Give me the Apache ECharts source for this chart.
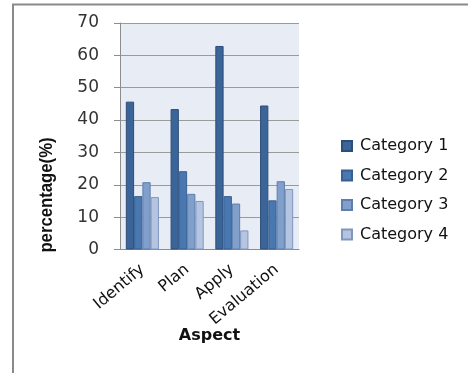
<!DOCTYPE html>
<html>
<head>
<meta charset="utf-8">
<script src="https://cdn.jsdelivr.net/npm/echarts@6/dist/echarts.min.js"></script>
<style>
  html, body { margin: 0; padding: 0; background: #fff; }
  #chart { width: 468px; height: 373px; }
</style>
</head>
<body>
<div id="chart"></div>
<script>
// Aspect categories and percentage per category group
const aspects = ['Identify', 'Plan', 'Apply', 'Evaluation'];
const seriesNames = ['Category 1', 'Category 2', 'Category 3', 'Category 4'];
const category1 = [45.7, 43.4, 62.9, 44.5];
const category2 = [16.5, 24.2, 16.5, 15.2];
const category3 = [20.8, 17.2, 14.2, 21.1];
const category4 = [16.2, 15.0, 5.9, 18.7];
const yTicks = { min: 0, max: 70, interval: 10 };
const yTitle = 'percentage(%)';
const xTitle = 'Aspect';

const fills = ['#3B6498', '#4877B1', '#819FCB', '#B5C5E1'];
const edges = ['#2D4E78', '#38608F', '#5E7EAE', '#7F96BE'];
const values = [category1, category2, category3, category4];

const chart = echarts.init(document.getElementById('chart'), null, { renderer: 'canvas' });

chart.setOption({
  animation: false,
  backgroundColor: '#ffffff',
  graphic: [
    {
      // frame along the left and top edges
      type: 'polyline',
      shape: { points: [[13, 373], [13, 4.5], [468, 4.5]] },
      style: { stroke: '#8a8a8a', lineWidth: 2, fill: null },
      silent: true
    },
    {
      // vertical axis title, slightly condensed
      type: 'text',
      x: 47, y: 195,
      rotation: Math.PI / 2,
      scaleX: 0.88,
      style: {
        text: yTitle,
        fontFamily: 'Liberation Sans',
        fontWeight: 'bold',
        fontSize: 19,
        fill: '#111',
        align: 'center',
        verticalAlign: 'middle'
      },
      silent: true
    }
  ],
  grid: {
    left: 120, right: 169, top: 23, bottom: 123.5,
    show: true, backgroundColor: '#E8ECF5', borderWidth: 0
  },
  legend: {
    orient: 'vertical',
    left: 336, top: 133,
    itemWidth: 10, itemHeight: 10, itemGap: 13.5,
    icon: 'rect',
    textStyle: { fontFamily: 'DejaVu Sans', fontSize: 16, color: '#111', padding: [0, 0, 0, 3] },
    data: seriesNames
  },
  xAxis: {
    type: 'category',
    data: aspects,
    name: xTitle,
    nameLocation: 'middle',
    nameGap: 78,
    nameMoveOverlap: false,
    nameTextStyle: { fontFamily: 'DejaVu Sans', fontWeight: 'bold', fontSize: 16, color: '#111' },
    axisLine: { lineStyle: { color: '#8c8c8c', width: 1 } },
    axisTick: { show: false },
    axisLabel: { rotate: 40, fontFamily: 'DejaVu Sans', fontSize: 16, color: '#111', margin: 18, interval: 0 }
  },
  yAxis: {
    type: 'value',
    min: yTicks.min, max: yTicks.max, interval: yTicks.interval,
    axisLine: { show: true, lineStyle: { color: '#8c8c8c', width: 1 } },
    axisTick: { show: true, length: 6, lineStyle: { color: '#8c8c8c' } },
    axisLabel: { fontFamily: 'DejaVu Sans', fontSize: 17, color: '#333', margin: 21 },
    splitLine: { lineStyle: { color: '#9a9a9a', width: 1 } }
  },
  series: seriesNames.map((name, i) => ({
    name,
    type: 'bar',
    data: values[i],
    barGap: '0%',
    barCategoryGap: '26%',
    itemStyle: { color: fills[i], borderColor: edges[i], borderWidth: 1 }
  }))
});
</script>
</body>
</html>
